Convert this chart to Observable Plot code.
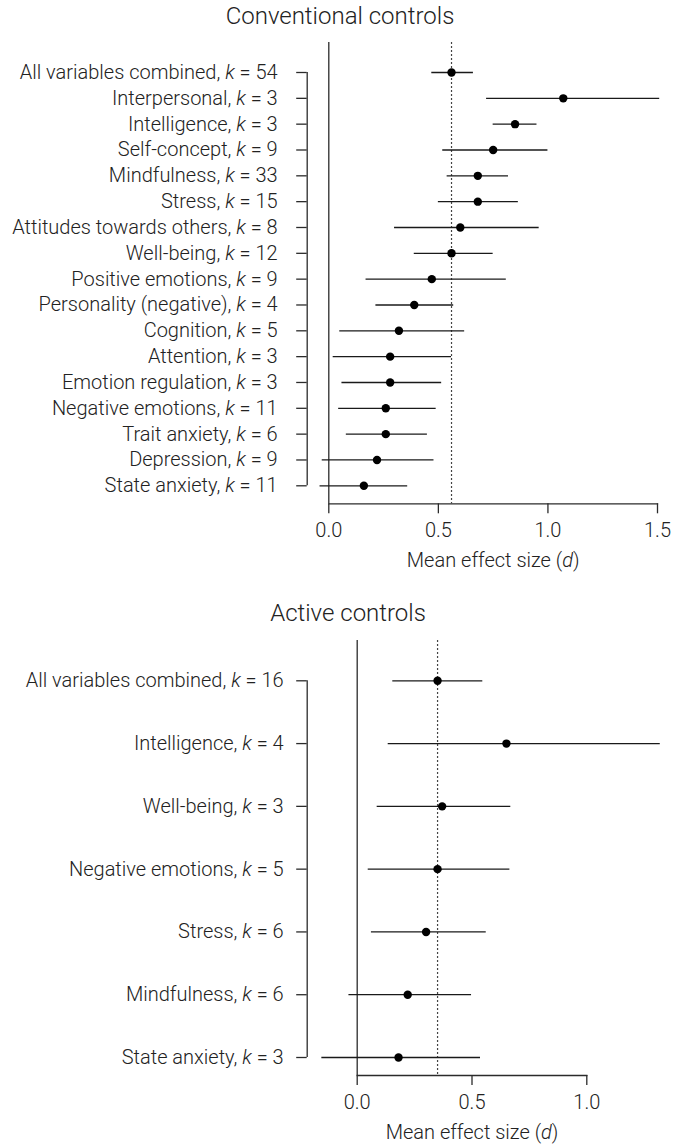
<!DOCTYPE html>
<html><head><meta charset="utf-8">
<script src="https://cdn.jsdelivr.net/npm/d3@7"></script>
<script src="https://cdn.jsdelivr.net/npm/@observablehq/plot@0.6"></script>
<style>
body{margin:0;background:#fff;font-family:Roboto,sans-serif;}
#wrap{position:relative;width:673px;height:1148px;overflow:hidden;}
.title{position:absolute;text-align:center;font-size:24px;font-weight:300;line-height:26px;color:#222;white-space:nowrap;}
.panel{position:absolute;left:0;}
.panel svg{overflow:visible;}
</style></head><body><div id="wrap"></div>
<script>
// ---- Conventional controls ----
const conventionalNames = ["All variables combined","Interpersonal","Intelligence","Self-concept","Mindfulness","Stress","Attitudes towards others","Well-being","Positive emotions","Personality (negative)","Cognition","Attention","Emotion regulation","Negative emotions","Trait anxiety","Depression","State anxiety"];
const conventionalK = [54,3,3,9,33,15,8,12,9,4,5,3,3,11,6,9,11];
const conventionalD = [0.56,1.07,0.85,0.75,0.68,0.68,0.60,0.56,0.47,0.39,0.32,0.28,0.28,0.26,0.26,0.22,0.16];
const conventionalLower = [0.47,0.72,0.75,0.52,0.54,0.50,0.30,0.39,0.17,0.215,0.05,0.02,0.06,0.045,0.08,-0.03,-0.04];
const conventionalUpper = [0.66,1.51,0.95,1.00,0.82,0.865,0.96,0.75,0.81,0.57,0.62,0.56,0.515,0.49,0.45,0.48,0.36];
const conventionalTicks = [0, 0.5, 1.0, 1.5];

// ---- Active controls ----
const activeNames = ["All variables combined","Intelligence","Well-being","Negative emotions","Stress","Mindfulness","State anxiety"];
const activeK = [16,4,3,5,6,6,3];
const activeD = [0.35,0.65,0.37,0.35,0.30,0.22,0.18];
const activeLower = [0.155,0.135,0.087,0.048,0.062,-0.036,-0.154];
const activeUpper = [0.547,1.32,0.669,0.665,0.562,0.498,0.537];
const activeTicks = [0, 0.5, 1.0];

const titles = ["Conventional controls", "Active controls"];
const xLabel = "Mean effect size (d)";

const SVGNS = "http://www.w3.org/2000/svg";
function setParts(t, parts) {
  while (t.firstChild) t.removeChild(t.firstChild);
  for (const [str, it] of parts) {
    const ts = document.createElementNS(SVGNS, "tspan");
    ts.textContent = str;
    if (it) ts.setAttribute("font-style", "italic");
    t.appendChild(ts);
  }
}
function italicize(svg) {
  svg.querySelectorAll("text").forEach(t => {
    const s = t.textContent;
    let m;
    if ((m = s.match(/^(.*, )k( = \d+)$/))) setParts(t, [[m[1], false], ["k", true], [m[2], false]]);
    else if ((m = s.match(/^(.*\()d(\))$/))) setParts(t, [[m[1], false], ["d", true], [m[2], false]]);
  });
}

function panel(cfg) {
  const {names, k, d, lo, hi, ticks} = cfg;
  const rows = names.map((n, i) => ({name: n, k: k[i], d: d[i], lo: lo[i], hi: hi[i]}));
  const mean = d[0];
  const labelOf = new Map(rows.map(r => [r.name, `${r.name}, k = ${r.k}`]));
  const ink = "#222";
  const svg = Plot.plot({
    width: 673, height: cfg.height,
    marginTop: cfg.marginTop, marginBottom: cfg.marginBottom,
    marginLeft: cfg.marginLeft, marginRight: cfg.marginRight,
    style: {fontFamily: "Roboto, sans-serif", fontSize: "20px", fontWeight: 300, color: ink, background: "transparent", overflow: "visible"},
    x: {domain: [ticks[0], ticks[ticks.length - 1]], axis: null},
    y: {type: "point", domain: names, range: cfg.yRange, padding: 0, round: false, axis: null},
    marks: [
      Plot.ruleX([mean], {stroke: "#444", strokeWidth: 1.2, strokeDasharray: "2,2"}),
      Plot.ruleX([0], {stroke: "#2b2b2b", strokeWidth: 1.3}),
      Plot.frame({anchor: "bottom", stroke: "#2b2b2b", strokeWidth: 1.3}),
      Plot.axisX({ticks, tickSize: 10, tickPadding: 9, tickFormat: d3.format(".1f"), label: null, stroke: "#2b2b2b", strokeWidth: 1.3, fill: ink}),
      Plot.text([xLabel], {frameAnchor: "bottom", dy: cfg.labelDy, lineAnchor: "top", text: t => t, fill: ink}),
      Plot.ruleX([0], {y1: () => names[0], y2: () => names[names.length - 1], dx: -cfg.bracketOffset, stroke: "#2b2b2b", strokeWidth: 1.3}),
      Plot.axisY({tickSize: 10.5, tickPadding: cfg.labelGap, dx: -cfg.bracketOffset, tickFormat: n => labelOf.get(n), label: null, stroke: "#2b2b2b", strokeWidth: 1.3, fill: ink}),
      Plot.ruleY(rows, {y: "name", x1: "lo", x2: "hi", stroke: "#1a1a1a", strokeWidth: 1.3}),
      Plot.dot(rows, {y: "name", x: "d", r: 4.2, fill: "black", stroke: "none"})
    ]
  });
  italicize(svg);
  return svg;
}

const wrap = document.getElementById("wrap");
function addTitle(text, top, center) {
  const div = document.createElement("div");
  div.className = "title";
  div.textContent = text;
  div.style.top = top + "px";
  div.style.left = (center - 200) + "px";
  div.style.width = "400px";
  wrap.appendChild(div);
}
function addPanel(svg, top) {
  const div = document.createElement("div");
  div.className = "panel";
  div.style.top = top + "px";
  div.appendChild(svg);
  wrap.appendChild(div);
}

addTitle(titles[0], 3, 340);
addPanel(panel({
  names: conventionalNames, k: conventionalK, d: conventionalD, lo: conventionalLower, hi: conventionalUpper, ticks: conventionalTicks,
  height: 580, marginTop: 42, marginBottom: 76.7, marginLeft: 328.3, marginRight: 16,
  yRange: [72, 485.3], bracketOffset: 21.6, labelGap: 19, labelDy: 49.4
}), 0);

addTitle(titles[1], 600, 348);
addPanel(panel({
  names: activeNames, k: activeK, d: activeD, lo: activeLower, hi: activeUpper, ticks: activeTicks,
  height: 548, marginTop: 40, marginBottom: 73, marginLeft: 356.7, marginRight: 86.7,
  yRange: [80.3, 457], bracketOffset: 50, labelGap: 13, labelDy: 49.4
}), 600);
</script></body></html>
